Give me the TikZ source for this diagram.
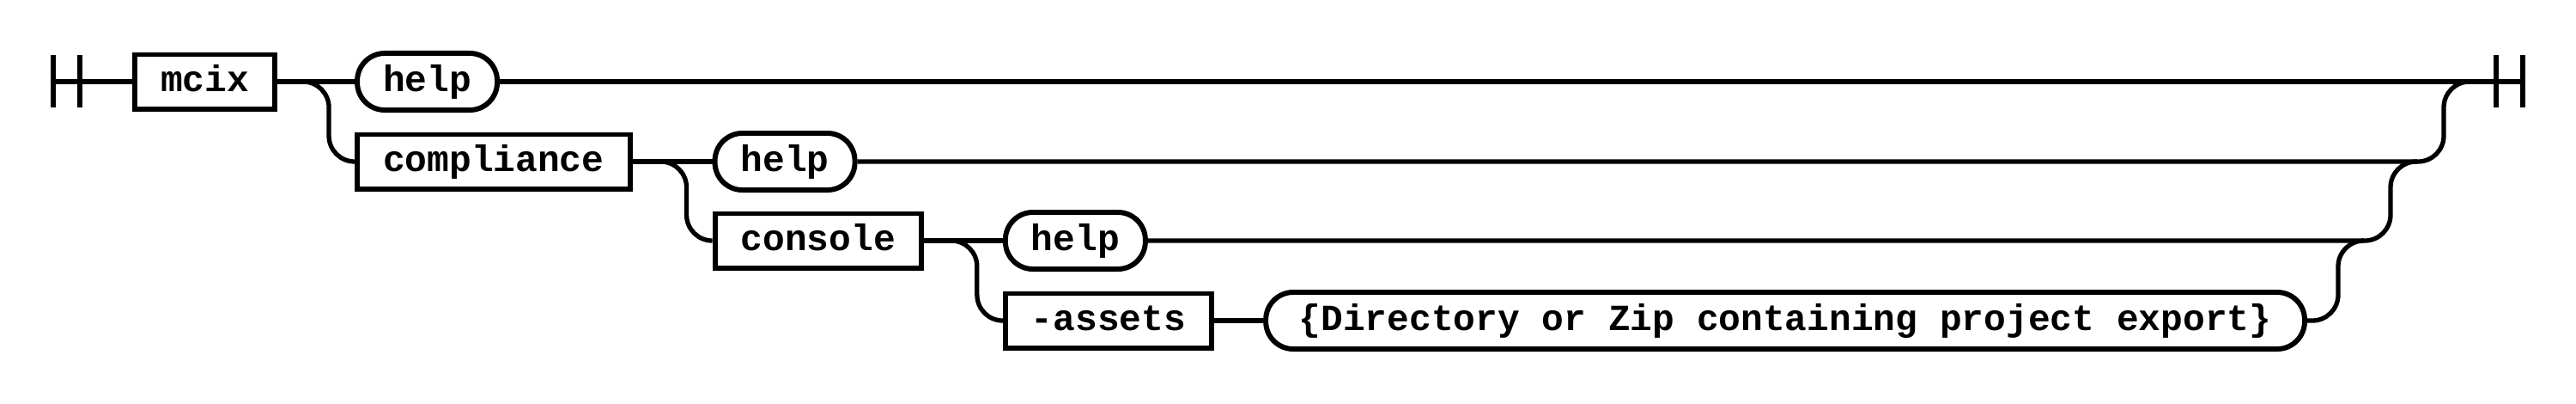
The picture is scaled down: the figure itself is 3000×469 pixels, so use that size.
\documentclass[tikz,border=0pt]{standalone}
\usepackage{fontspec}
\setmonofont{Liberation Mono}
\usetikzlibrary{positioning}

\tikzset{
  nonterm/.style={draw,rectangle,line width=1.7pt,minimum height=0.63cm,inner xsep=0.3cm,
    font=\ttfamily\bfseries\fontsize{12.2}{14}\selectfont,text height=6.5pt,text depth=0pt},
  term/.style={nonterm,rounded corners=0.32cm,minimum height=0.66cm},
  rail/.style={line width=1.5pt},
}

\begin{document}
\begin{tikzpicture}[x=0.01cm,y=-0.01cm]
\useasboundingbox (0,0) rectangle (3000,469);

% rows and ends
\coordinate (r2) at (0,188);
\coordinate (r3) at (0,280);
\coordinate (r4) at (0,373);
\coordinate (start) at (62,95);
\coordinate (finish) at (2938,95);
\coordinate (j1) at (2877,95);
\coordinate (j2) at (2815,188);
\coordinate (j3) at (2753,280);

\node[nonterm,anchor=west] (mcix) at (154,95) {mcix};
\node[term,right=0.9cm of mcix] (help1) {help};
\node[nonterm,anchor=west] (compliance) at (help1.west |- r2) {compliance};
\node[term,right=0.93cm of compliance] (help2) {help};
\node[nonterm,anchor=west] (console) at (help2.west |- r3) {console};
\node[term,right=0.92cm of console] (help3) {help};
\node[nonterm,anchor=west] (assets) at (help3.west |- r4) {-assets};
\node[term,right=0.57cm of assets,inner xsep=0.385cm] (export) {\{Directory or Zip containing project export\}};

% start and end bars
\draw[rail] (start) ++(0,-31) -- ++(0,61) (start) ++(31,-31) -- ++(0,61);
\draw[rail] (finish) ++(0,-31) -- ++(0,61) (finish) ++(-31,-31) -- ++(0,61);

\draw[rail] (start) -- (mcix);
\draw[rail] (mcix) -- (help1);
\draw[rail] (help1) -- (finish);
\draw[rail,rounded corners=0.3cm] (mcix.east) -| ([xshift=-0.3cm]compliance.west) -- (compliance.west);
\draw[rail] (compliance) -- (help2);
\draw[rail,rounded corners=0.3cm] (compliance.east) -| ([xshift=-0.3cm]console.west) -- (console.west);
\draw[rail] (console) -- (help3);
\draw[rail,rounded corners=0.3cm] (console.east) -| ([xshift=-0.3cm]assets.west) -- (assets.west);
\draw[rail] (assets) -- (export);

% joins back to the main line
\draw[rail,rounded corners=0.3cm] (help2.east) -| ([xshift=-0.31cm]j1) -- (j1);
\draw[rail,rounded corners=0.3cm] (help3.east) -| ([xshift=-0.31cm]j2) -- (j2);
\draw[rail,rounded corners=0.3cm] (export.east) -| ([xshift=-0.3cm]j3) -- (j3);
\end{tikzpicture}
\end{document}
